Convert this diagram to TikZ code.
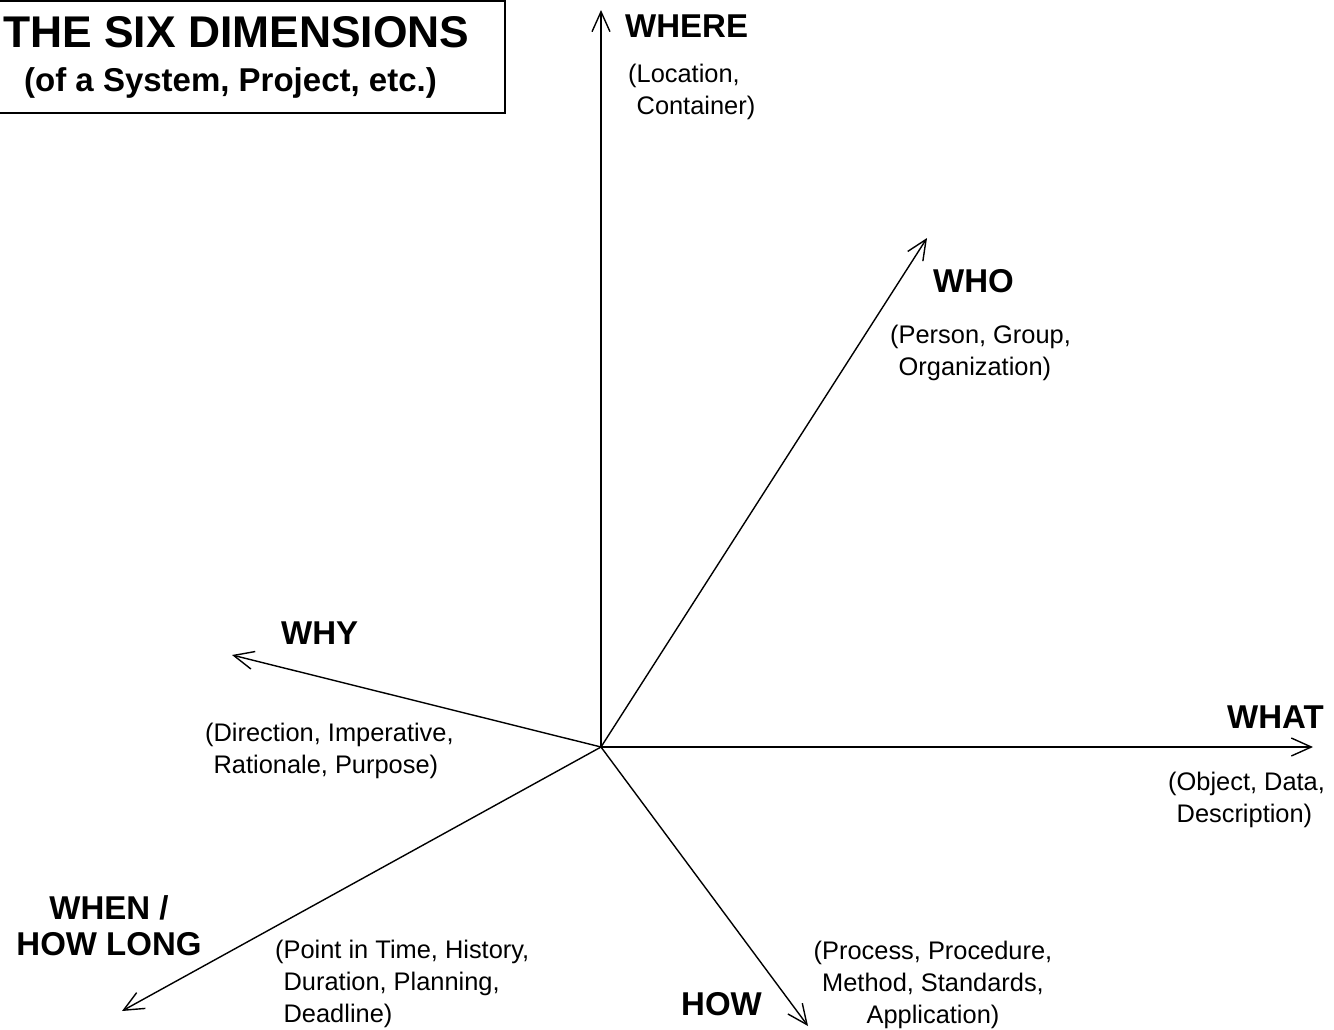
\documentclass[tikz,border=0pt]{standalone}
\usepackage{fontspec}
\setmainfont{Liberation Sans}
\usetikzlibrary{arrows.meta}
\begin{document}
\begin{tikzpicture}[x=1pt,y=-1pt,
  axis/.style={line width=1.4pt,
    -{Straight Barb[length=20pt,width=18pt,line width=1.4pt]}},
  dimlabel/.style={inner sep=0pt, font=\fontsize{33}{36}\selectfont\bfseries},
  dimnote/.style={inner sep=0pt, align=left, font=\fontsize{25.4}{32}\selectfont},
]
\useasboundingbox (0,0) rectangle (1334,1029);

% title box
\draw[line width=2pt] (-5,1) rectangle (505,113);
\node[anchor=base west, inner sep=0pt, font=\fontsize{44.4}{48}\selectfont\bfseries]
  (title) at (3,47) {THE SIX DIMENSIONS};
\node[anchor=base west, inner sep=0pt, font=\fontsize{33}{36}\selectfont\bfseries]
  (subtitle) at (24,91) {(of a System, Project, etc.)};

% the six axes
\coordinate (o) at (601,747);
\coordinate (where) at (601,10);
\coordinate (who) at (927,238);
\coordinate (what) at (1313,747);
\coordinate (why) at (232,655);
\coordinate (when) at (122,1011);
\coordinate (how) at (808,1026);

\foreach \t in {where,who,what,why,when,how}
  \draw[axis] (o) -- (\t);

% multi-line nodes below are placed by the baseline of their last line

% WHERE
\node[dimlabel, anchor=base west] (whereL) at (625,37) {WHERE};
\node[dimnote, anchor=base west] (whereN) at (628,114)
  {(Location,\\\phantom{(}Container)};

% WHO
\node[dimlabel, anchor=base west] (whoL) at (933,292) {WHO};
\node[dimnote, anchor=base west] (whoN) at (890,375)
  {(Person, Group,\\\phantom{(}Organization)};

% WHAT
\node[dimlabel, anchor=base west] (whatL) at (1227,728) {WHAT};
\node[dimnote, anchor=base west] (whatN) at (1168,822)
  {(Object, Data,\\\phantom{(}Description)};

% WHY
\node[dimlabel, anchor=base west] (whyL) at (281,644) {WHY};
\node[dimnote, anchor=base west] (whyN) at (205,773)
  {(Direction, Imperative,\\\phantom{(}Rationale, Purpose)};

% WHEN / HOW LONG
\node[dimlabel, align=center, anchor=base] (whenL) at (109,955)
  {WHEN /\\HOW LONG};
\node[dimnote, anchor=base west] (whenN) at (275,1022)
  {(Point in Time, History,\\\phantom{(}Duration, Planning,\\\phantom{(}Deadline)};

% HOW
\node[dimlabel, anchor=base west] (howL) at (681,1015) {HOW};
\node[dimnote, align=center, anchor=base] (howN) at (933,1023)
  {(Process, Procedure,\\Method, Standards,\\Application)};
\end{tikzpicture}
\end{document}
